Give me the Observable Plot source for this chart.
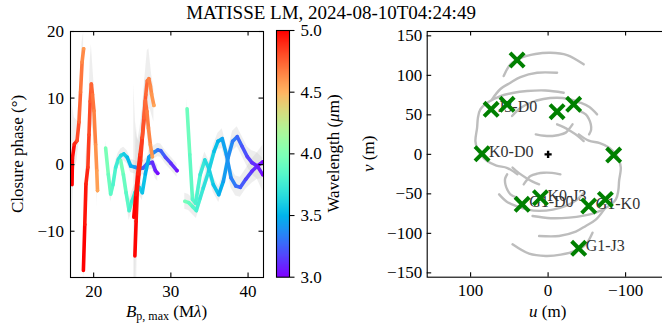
<!DOCTYPE html>
<html>
<head>
<meta charset="utf-8">
<script src="https://cdn.jsdelivr.net/npm/d3@7"></script>
<script src="https://cdn.jsdelivr.net/npm/@observablehq/plot@0.6"></script>
<style>
  html, body { margin: 0; padding: 0; background: #fff; }
  #fig { position: relative; width: 662px; height: 329px; overflow: hidden; background: #fff; }
  .panel { position: absolute; top: 0; }
  .panel svg { max-width: none; display: block; background: transparent; font-family: "Liberation Serif", "Times New Roman", serif; }
  #labels { position: absolute; left: 0; top: 0; font-family: "Liberation Serif", "Times New Roman", serif; }
</style>
</head>
<body>
<div id="fig">
  <div class="panel" id="cp" style="left:0;width:270px"></div>
  <div class="panel" id="cbar" style="left:270px;width:60px"></div>
  <div class="panel" id="uv" style="left:360px;width:316px"></div>
  <svg id="labels" width="662" height="329" font-size="17" fill="#000">
    <text x="331" y="18.5" text-anchor="middle" font-size="19">MATISSE LM, 2024-08-10T04:24:49</text>
    <text transform="translate(23,154) rotate(-90)" text-anchor="middle">Closure phase (°)</text>
    <text x="166.5" y="316.5" text-anchor="middle"><tspan font-style="italic">B</tspan><tspan font-size="12" dy="3.5">p, max</tspan><tspan dy="-3.5"> (M</tspan><tspan font-style="italic">λ</tspan>)</text>
    <text transform="translate(339,153.5) rotate(-90)" text-anchor="middle">Wavelength (<tspan font-style="italic">μ</tspan>m)</text>
    <text transform="translate(374,153.8) rotate(-90)" text-anchor="middle"><tspan font-style="italic">v</tspan> (m)</text>
    <text x="547.7" y="316.5" text-anchor="middle"><tspan font-style="italic">u</tspan> (m)</text>
  </svg>
</div>
<script>
// ---------------------------------------------------------------------------
// Closure phases: one list per triangle and band.
// Each entry is [B_p,max (Mλ), closure phase (deg), wavelength (µm), error (deg)].
// ---------------------------------------------------------------------------
const cpK0D0_M = [
  [17.20, -3.0, 5.00, 14], [17.25, 1.0, 4.97, 8], [17.50, 3.1, 4.90, 4], [17.85, 3.6, 4.81, 3],
  [18.10, 6.4, 4.74, 3], [18.30, 10.9, 4.69, 3], [18.50, 15.4, 4.64, 3], [18.70, 17.4, 4.59, 2.5]
];
const cpJ3D0_M = [
  [18.67, -15.9, 5.00, 3], [18.85, -9.0, 4.95, 3], [19.00, -2.9, 4.91, 4], [19.25, -0.4, 4.85, 5],
  [19.40, 4.5, 4.81, 6], [19.55, 9.5, 4.77, 6], [19.70, 12.1, 4.74, 6], [19.85, 10.5, 4.70, 5],
  [20.04, 8.1, 4.66, 4], [20.25, 3.0, 4.61, 3], [20.40, -0.9, 4.57, 2.5], [20.50, -3.9, 4.55, 2.5]
];
const cpG1J3a_M = [
  [25.34, -13.7, 4.99, 4], [25.50, -8.5, 4.96, 15], [25.65, -3.9, 4.93, 8], [25.85, -1.5, 4.89, 5],
  [26.08, 0.6, 4.85, 4], [26.30, 4.0, 4.81, 4], [26.50, 7.1, 4.77, 4], [26.75, 10.5, 4.73, 4],
  [26.95, 12.6, 4.69, 4.5], [27.15, 12.9, 4.66, 4.5], [27.35, 11.8, 4.63, 3.5], [27.50, 10.6, 4.60, 3],
  [27.80, 8.9, 4.55, 2.5]
];
const cpG1J3b_M = [
  [25.20, -7.9, 5.00, 20], [25.45, -4.5, 4.95, 10], [25.70, -1.4, 4.90, 5], [26.00, 1.5, 4.85, 4],
  [26.30, 4.1, 4.79, 4], [26.55, 7.0, 4.75, 4], [26.70, 9.6, 4.72, 3.5], [26.90, 8.0, 4.68, 3],
  [27.10, 5.5, 4.65, 2.5], [27.35, 3.0, 4.61, 2], [27.60, 1.2, 4.57, 2]
];
const cpK0D0_L = [
  [21.55, 2.5, 3.98, 1], [21.90, -1.5, 3.92, 1.2], [22.20, -4.4, 3.86, 1.2], [22.50, -3.0, 3.81, 1],
  [22.85, -0.4, 3.75, 1], [23.20, 0.8, 3.70, 1], [23.55, 1.4, 3.64, 1], [23.90, 1.6, 3.59, 1],
  [24.35, 1.1, 3.52, 1], [24.80, -0.2, 3.46, 1], [25.40, -0.4, 3.38, 1], [25.90, -0.6, 3.31, 1],
  [26.40, -0.5, 3.25, 1], [26.90, 0.1, 3.19, 1], [27.60, 0.35, 3.11, 1], [28.00, -0.9, 3.06, 1.2],
  [28.30, -1.3, 3.03, 1.2]
];
const cpJ3D0_L = [
  [23.50, 0.6, 3.97, 1], [23.85, -1.5, 3.91, 1], [24.20, -4.2, 3.86, 1.2], [24.60, -6.9, 3.79, 1.5],
  [24.95, -5.5, 3.74, 1.5], [25.35, -4.2, 3.68, 1.2], [25.90, -3.4, 3.60, 1.2], [26.30, -4.2, 3.55, 1.2],
  [26.70, -1.4, 3.49, 1], [27.15, 1.1, 3.44, 1], [27.80, 1.85, 3.36, 1], [28.30, 2.2, 3.30, 1],
  [28.70, 2.1, 3.25, 1], [29.30, 1.1, 3.18, 1], [30.00, 0.2, 3.11, 1], [30.80, -0.9, 3.03, 1]
];
const cpG1J3a_L = [
  [32.10, 8.4, 3.93, 1.5], [32.45, 1.5, 3.88, 1.5], [32.80, -5.2, 3.84, 1.5], [33.20, -5.8, 3.80, 1.2],
  [33.80, -1.5, 3.73, 1.2], [34.40, 0.7, 3.66, 1.2], [34.90, -0.5, 3.61, 1.2], [35.50, -3.0, 3.55, 1.2],
  [36.20, -4.5, 3.48, 1.2], [36.80, -2.5, 3.42, 1.2], [37.40, 1.0, 3.37, 1.2], [38.00, 3.5, 3.32, 1.5],
  [38.60, 4.2, 3.26, 1.5], [39.20, 2.8, 3.21, 1.5], [39.90, 1.2, 3.16, 1.5], [40.50, 0.3, 3.11, 1.8],
  [41.20, -0.2, 3.06, 2], [41.90, -1.5, 3.01, 2.5]
];
const cpG1J3b_L = [
  [31.80, -5.5, 3.96, 1.2], [32.30, -5.7, 3.90, 1.2], [32.80, -6.3, 3.84, 1.2], [33.30, -6.9, 3.78, 1.2],
  [33.80, -5.0, 3.73, 1.2], [34.20, -3.5, 3.68, 1.2], [34.90, -1.0, 3.61, 1.2], [35.60, 2.0, 3.54, 1.2],
  [36.10, 3.5, 3.49, 1.2], [36.65, 3.9, 3.44, 1.5], [37.20, 1.5, 3.39, 1.5], [37.80, -2.0, 3.33, 1.5],
  [38.40, -3.2, 3.28, 1.5], [39.00, -3.4, 3.23, 1.5], [39.70, -2.2, 3.17, 1.5], [40.50, -1.0, 3.11, 1.8],
  [41.20, -0.2, 3.06, 2], [41.90, 0.4, 3.01, 2.5]
];

// Axis ranges and tick values
const bpDomain = [17, 42];
const cpDomain = [-16.95, 20];
const bpTicks = [20, 30, 40];
const cpTicks = [-10, 0, 10, 20];
const lamDomain = [3, 5];
const lamTicks = [3.0, 3.5, 4.0, 4.5, 5.0];

// ---------------------------------------------------------------------------
// uv plane: baselines at the observation time, their conjugates, and tracks.
// ---------------------------------------------------------------------------
const blNames = ["K0-D0", "J3-D0", "G1-D0", "K0-J3", "G1-K0", "G1-J3"];
const blU = [85.2, 73.5, 33.5, 9.9, -52.4, -39.5];
const blV = [0.8, 57.0, -63.3, -54.9, -65.4, -119.0];
const conjU = [-84.6, -73.9, -33.0, -11.6, 52.9, 40.0];
const conjV = [-0.9, -57.0, 63.3, 54.0, 63.3, 119.4];

const track1 = [[57.3, 99.1], [48.6, 113.9], [35.7, 121.9], [16.4, 127.0], [-3.0, 128.6], [-24.5, 125.7], [-45.9, 113.9]];
const track2 = [[72.3, 69.6], [61.5, 82.7], [48.6, 90.6], [35.7, 97.8], [14.2, 103.3], [-11.6, 103.3]];
const track3 = [[-20.1, 78.0], [3.5, 80.8], [27.1, 80.1], [46.0, 77.6], [61.5, 73.8], [77.0, 66.2], [87.4, 57.0],
                [90.6, 45.9], [91.6, 33.7], [93.8, 16.8], [91.2, 6.7], [87.4, 0.0], [78.7, -8.5], [66.7, -14.2],
                [52.5, -17.3], [39.6, -25.3]];
const track4 = [[46.5, 48.5], [35.7, 58.6], [22.8, 65.3], [6.1, 70.0], [-11.6, 71.6], [-26.2, 70.0], [-41.7, 65.3],
                [-53.3, 59.9], [-63.2, 50.6]];
const track5 = [[31.5, -38.0], [27.0, -32.0], [22.8, -27.5], [14.0, -24.5], [5.7, -23.3], [-5.0, -23.5], [-15.9, -25.3]];
const track6 = [[-11.6, 38.0], [-20.0, 34.5], [-28.8, 29.5], [-38.0, 23.5], [-45.9, 16.8]];
const track7 = [[52.9, -25.3], [55.5, -31.0], [55.1, -38.0], [52.5, -45.0], [48.6, -50.6], [40.0, -54.9]];

const uDomain = [156, -156];
const vDomain = [-155.5, 155.5];
const uTicks = [100, 0, -100];
const vTicks = [-150, -100, -50, 0, 50, 100, 150];

// ---------------------------------------------------------------------------
// Drawing
// ---------------------------------------------------------------------------
const FONT = "'Liberation Serif', 'Times New Roman', serif";
const TICK = 4.5;
const minus = d => (d < 0 ? "\u2212" + Math.abs(d) : String(d));
const axisText = {fontSize: 17, fontFamily: FONT, label: null};

// matplotlib-style "rainbow" colour map
function rainbow(t) {
  const r = Math.min(1, Math.abs(2 * t - 0.5));
  const g = Math.sin(Math.PI * t);
  const b = Math.cos(Math.PI * t / 2);
  return d3.rgb(255 * r, 255 * g, 255 * b).formatHex();
}
const colorScale = {type: "linear", domain: lamDomain, interpolate: rainbow};

// ---- closure phase panel
const curves = [
  ["K0-D0 L", cpK0D0_L], ["J3-D0 L", cpJ3D0_L], ["G1-J3a L", cpG1J3a_L], ["G1-J3b L", cpG1J3b_L],
  ["K0-D0 M", cpK0D0_M], ["J3-D0 M", cpJ3D0_M], ["G1-J3a M", cpG1J3a_M], ["G1-J3b M", cpG1J3b_M]
];
const cpRows = curves.flatMap(([name, pts]) =>
  pts.map(([bp, cp, lam, err]) => ({name, bp, cp, lam, err})));

const cpW = 270, cpH = 329, cpL = 70, cpR = 7, cpT = 31, cpB = 52;
const cpFW = cpW - cpL - cpR, cpFH = cpH - cpT - cpB;

const cpPlot = Plot.plot({
  width: cpW, height: cpH,
  marginLeft: cpL, marginRight: cpR, marginTop: cpT, marginBottom: cpB,
  x: {domain: bpDomain, label: null},
  y: {domain: cpDomain, label: null},
  color: colorScale,
  style: {fontFamily: FONT, fontSize: "17px", color: "#000", background: "transparent", overflow: "visible"},
  marks: [
    Plot.areaY(cpRows, {x: "bp", y1: d => d.cp - d.err, y2: d => d.cp + d.err, z: "name",
      fill: "#c8c8c8", fillOpacity: 0.3, clip: true}),
    Plot.line(cpRows, {x: "bp", y: "cp", z: "name", stroke: "lam", strokeWidth: 3.6, clip: true}),
    Plot.frame({stroke: "#000", strokeWidth: 1.1}),
    Plot.tickX(bpTicks, {x: d => d, insetTop: cpFH - TICK, strokeWidth: 1.1}),
    Plot.tickX(bpTicks, {x: d => d, insetBottom: cpFH - TICK, strokeWidth: 1.1}),
    Plot.tickY(cpTicks, {y: d => d, insetRight: cpFW - TICK, strokeWidth: 1.1}),
    Plot.tickY(cpTicks, {y: d => d, insetLeft: cpFW - TICK, strokeWidth: 1.1}),
    Plot.axisX(bpTicks, {...axisText, tickSize: 0, tickPadding: 7}),
    Plot.axisY(cpTicks, {...axisText, tickSize: 0, tickPadding: 6.5, tickFormat: minus})
  ]
});
document.getElementById("cp").append(cpPlot);

// ---- colour bar
const cbW = 60, cbL = 6, cbR = 41;
const cbPlot = Plot.plot({
  width: cbW, height: cpH,
  marginLeft: cbL, marginRight: cbR, marginTop: 30, marginBottom: 52.3,
  x: {domain: [0, 1], axis: null},
  y: {domain: lamDomain, label: null},
  color: colorScale,
  style: {fontFamily: FONT, fontSize: "17px", color: "#000", background: "transparent", overflow: "visible"},
  marks: [
    Plot.raster({x1: 0, x2: 1, y1: lamDomain[0], y2: lamDomain[1], width: 1, height: 256,
      fill: (x, y) => y, imageRendering: "auto"}),
    Plot.frame({stroke: "#000", strokeWidth: 1.1}),
    Plot.axisY(lamTicks, {...axisText, anchor: "right", tickSize: TICK, tickPadding: 6.5, strokeWidth: 1.1,
      tickFormat: d3.format(".1f")})
  ]
});
document.getElementById("cbar").append(cbPlot);

// ---- uv plane
const tracks = [track1, track2, track3, track4, track5, track6, track7];
const trackRows = tracks.flatMap((tr, i) => [
  ...tr.map(([u, v]) => ({id: "t" + i, u, v})),
  ...tr.map(([u, v]) => ({id: "c" + i, u: -u, v: -v}))
]);
const labelled = blNames.map((name, i) => ({name, u: blU[i], v: blV[i]}));
const markers = [
  ...blU.map((u, i) => ({u, v: blV[i]})),
  ...conjU.map((u, i) => ({u, v: conjV[i]}))
];

const uvW = 316, uvL = 66.7, uvT = 31, uvB = 52.3;
const uvFW = (uDomain[0] - uDomain[1]) * 0.775;
const uvR = uvW - uvL - uvFW;
const uvFH = cpH - uvT - uvB;

const uvPlot = Plot.plot({
  width: uvW, height: cpH,
  marginLeft: uvL, marginRight: uvR, marginTop: uvT, marginBottom: uvB,
  x: {domain: uDomain, label: null},
  y: {domain: vDomain, label: null},
  style: {fontFamily: FONT, fontSize: "17px", color: "#000", background: "transparent", overflow: "visible"},
  marks: [
    Plot.line(trackRows, {x: "u", y: "v", z: "id", stroke: "#bdbdbd", strokeWidth: 2.4, curve: "catmull-rom"}),
    Plot.text(labelled, {x: "u", y: "v", text: "name", textAnchor: "start", dx: 7, dy: -2,
      fontSize: 16, fontFamily: FONT, fill: "#333"}),
    Plot.dot(markers, {x: "u", y: "v", symbol: "times", r: 6.5, stroke: "#008000", strokeWidth: 4}),
    Plot.dot([0], {x: d => d, y: d => d, symbol: "cross", r: 3, fill: "#000"}),
    Plot.frame({stroke: "#000", strokeWidth: 1.1}),
    Plot.tickX(uTicks, {x: d => d, insetTop: uvFH - TICK, strokeWidth: 1.1}),
    Plot.tickX(uTicks, {x: d => d, insetBottom: uvFH - TICK, strokeWidth: 1.1}),
    Plot.tickY(vTicks, {y: d => d, insetRight: uvFW - TICK, strokeWidth: 1.1}),
    Plot.tickY(vTicks, {y: d => d, insetLeft: uvFW - TICK, strokeWidth: 1.1}),
    Plot.axisX(uTicks, {...axisText, tickSize: 0, tickPadding: 7, tickFormat: minus}),
    Plot.axisY(vTicks, {...axisText, tickSize: 0, tickPadding: 5, tickFormat: minus})
  ]
});
document.getElementById("uv").append(uvPlot);
</script>
</body>
</html>
